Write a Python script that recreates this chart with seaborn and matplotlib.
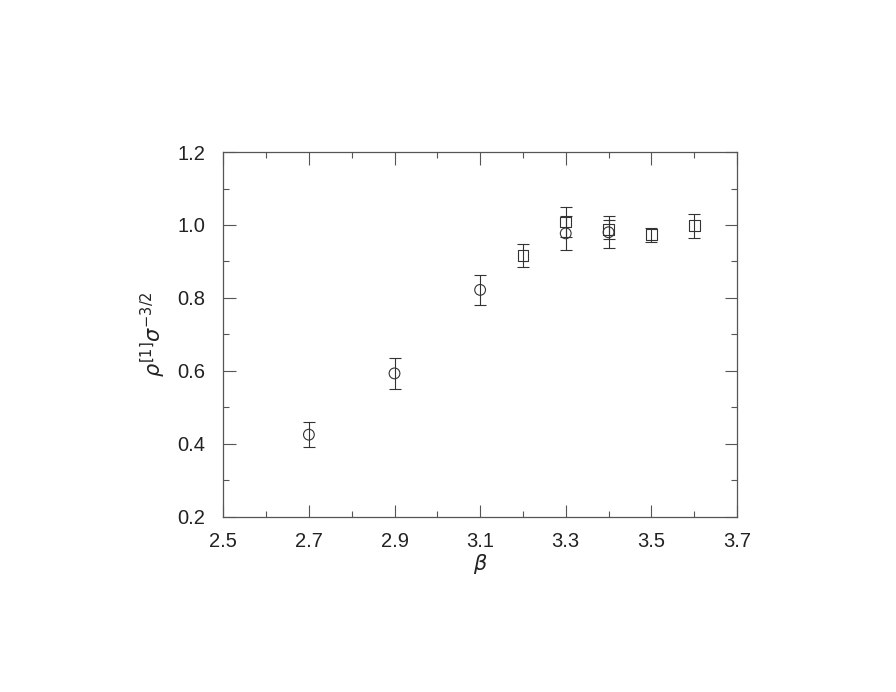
import matplotlib
matplotlib.use("Agg")
import matplotlib.pyplot as plt
import seaborn as sns
import pandas as pd
from matplotlib.ticker import MultipleLocator

# data
beta_circle = [2.7, 2.9, 3.1, 3.3, 3.4]
val_circle = [0.425, 0.593, 0.822, 0.977, 0.980]
err_circle = [0.034, 0.043, 0.041, 0.047, 0.044]

beta_square = [3.2, 3.3, 3.4, 3.5, 3.6]
val_square = [0.917, 1.008, 0.988, 0.973, 0.998]
err_square = [0.032, 0.042, 0.026, 0.020, 0.033]

x_ticks = [2.5, 2.7, 2.9, 3.1, 3.3, 3.5, 3.7]
y_ticks = [0.2, 0.4, 0.6, 0.8, 1.0, 1.2]

df = pd.DataFrame({
    "beta": beta_circle + beta_square,
    "val": val_circle + val_square,
    "err": err_circle + err_square,
    "set": ["circle"] * len(beta_circle) + ["square"] * len(beta_square),
})

sns.set_theme(style="ticks")
plt.rcParams["font.family"] = ["Liberation Sans", "DejaVu Sans"]
plt.rcParams["mathtext.fontset"] = "dejavusans"

fig = plt.figure(figsize=(8.96, 6.92), dpi=100)
ax = fig.add_axes([0.2492, 0.2533, 0.5733, 0.5270])

lc = "#333333"
for name, sub in df.groupby("set"):
    ax.errorbar(sub["beta"], sub["val"], yerr=sub["err"], fmt="none",
                ecolor=lc, elinewidth=0.8, capsize=4, capthick=0.8, zorder=2)

sns.scatterplot(data=df, x="beta", y="val", style="set",
                markers={"circle": "o", "square": "s"}, s=60,
                facecolors="none", edgecolor=lc, linewidth=0.8,
                legend=False, ax=ax, zorder=3)

ax.set_xlim(2.5, 3.7)
ax.set_ylim(0.2, 1.2)
ax.set_xticks(x_ticks)
ax.set_yticks(y_ticks)
ax.set_xticklabels([f"{v:.1f}" for v in x_ticks])
ax.set_yticklabels([f"{v:.1f}" for v in y_ticks])
ax.xaxis.set_minor_locator(MultipleLocator(0.1))
ax.yaxis.set_minor_locator(MultipleLocator(0.1))
ax.tick_params(which="both", direction="in", top=True, right=True,
               color="#555555", width=0.8, labelsize=14.5, labelcolor="#222222")
ax.tick_params(axis="x", which="major", pad=11)
ax.tick_params(axis="y", which="major", pad=13)
ax.tick_params(which="major", length=9)
ax.tick_params(which="minor", length=4.5)
for sp in ax.spines.values():
    sp.set_color("#555555")
    sp.set_linewidth(0.9)

ax.set_xlabel(r"$\beta$", fontsize=15, labelpad=1, color="#222222")
ax.set_ylabel(r"$\rho^{[1]}\sigma^{-3/2}$", fontsize=15, labelpad=7, color="#222222")

fig.savefig("out.png", dpi=100, facecolor="white")
